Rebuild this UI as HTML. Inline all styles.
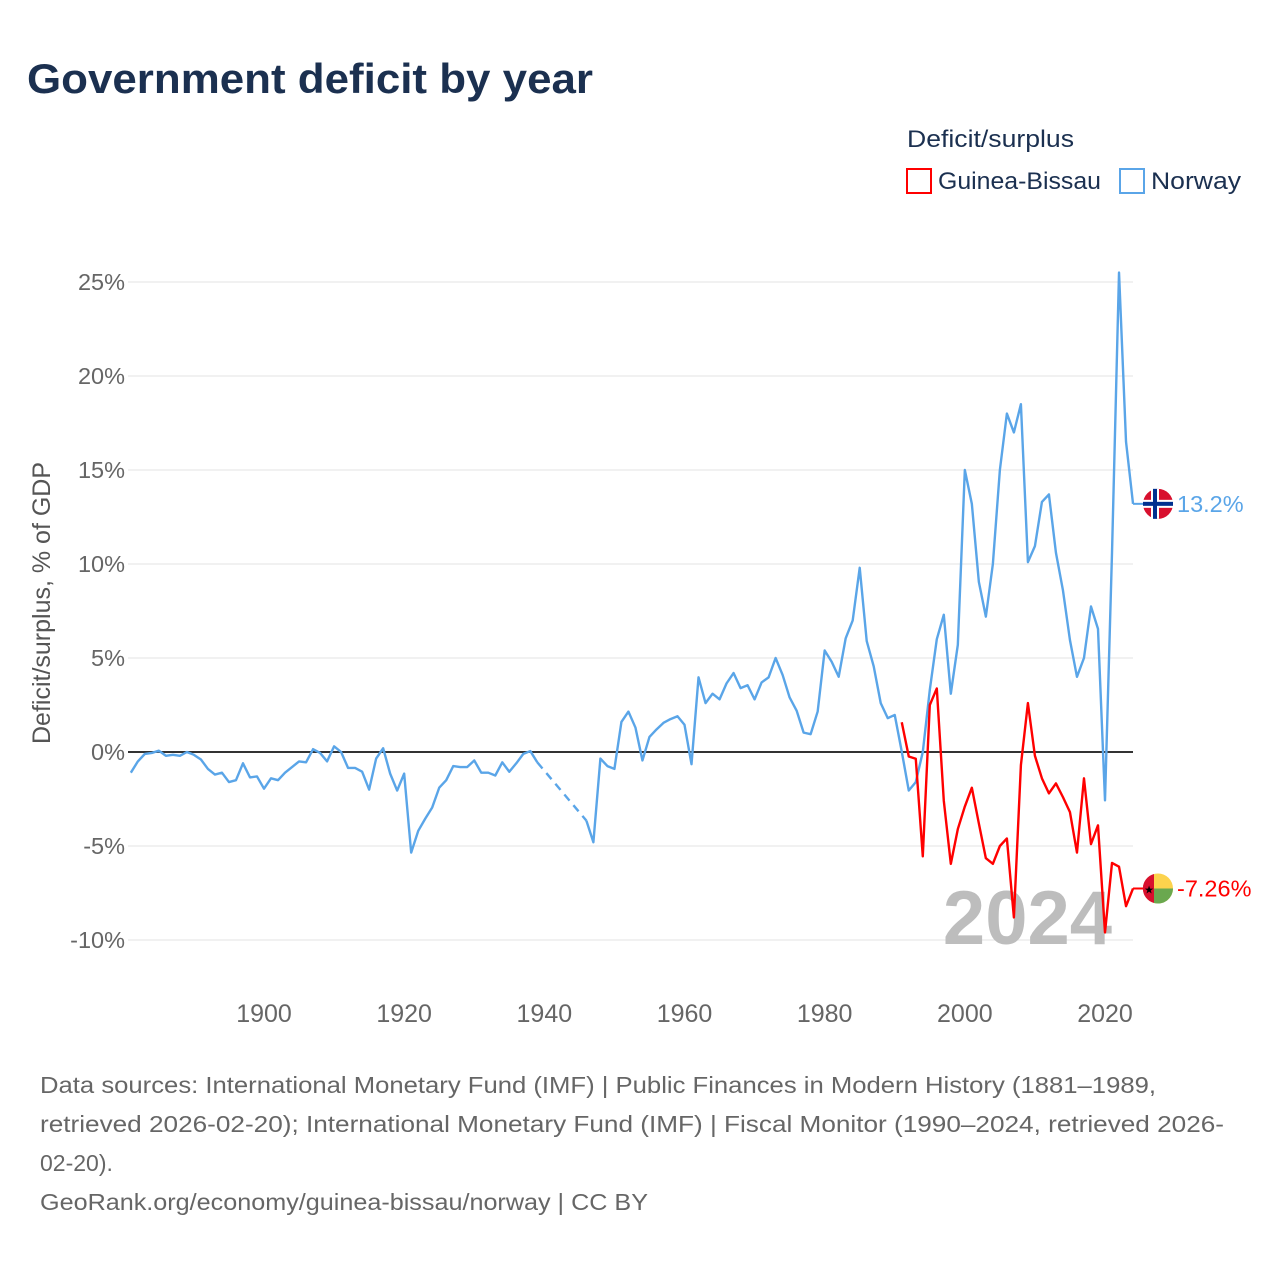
<!DOCTYPE html>
<html><head><meta charset="utf-8"><style>
html,body{margin:0;padding:0;background:#fff;}
svg text{font-family:"Liberation Sans",sans-serif;}
</style></head><body>
<svg id="chart" width="1280" height="1280" xmlns="http://www.w3.org/2000/svg">
<text x="27" y="93" font-size="42" font-weight="bold" fill="#1b3050" textLength="566" lengthAdjust="spacingAndGlyphs">Government deficit by year</text>
<text x="907" y="147" font-size="24" fill="#1b3050" textLength="167" lengthAdjust="spacingAndGlyphs">Deficit/surplus</text>
<g>
<rect x="907" y="169" width="24" height="24" fill="none" stroke="#ff0000" stroke-width="2"/>
<text x="938" y="189" font-size="24" fill="#1b3050" textLength="163" lengthAdjust="spacingAndGlyphs">Guinea-Bissau</text></g>
<g>
<rect x="1120" y="169" width="24" height="24" fill="none" stroke="#5aa5e8" stroke-width="2"/>
<text x="1151" y="189" font-size="24" fill="#1b3050" textLength="90" lengthAdjust="spacingAndGlyphs">Norway</text></g>
<g id="grid"></g>
<text x="1112" y="944" font-size="76" font-weight="bold" fill="#bdbdbd" text-anchor="end">2024</text>
<g id="series"></g>
<text transform="translate(50,603) rotate(-90)" font-size="25" fill="#555" text-anchor="middle">Deficit/surplus, % of GDP</text>
<g font-size="23" fill="#666">
<text x="40" y="1093" textLength="1116" lengthAdjust="spacingAndGlyphs">Data sources: International Monetary Fund (IMF) | Public Finances in Modern History (1881–1989,</text>
<text x="40" y="1132" textLength="1184" lengthAdjust="spacingAndGlyphs">retrieved 2026-02-20); International Monetary Fund (IMF) | Fiscal Monitor (1990–2024, retrieved 2026-</text>
<text x="40" y="1171">02-20).</text>
<text x="40" y="1210" textLength="608" lengthAdjust="spacingAndGlyphs">GeoRank.org/economy/guinea-bissau/norway | CC BY</text>
</g>
</svg>
<script>
const yTicks=[25,20,15,10,5,0,-5,-10];
const yTickLabels=["25%","20%","15%","10%","5%","0%","-5%","-10%"];
const xTicks=[1900,1920,1940,1960,1980,2000,2020];
const norwayStart=1881;
const norwayValues=[-1.1,-0.5,-0.1,-0.05,0.07,-0.2,-0.15,-0.2,0,-0.15,-0.4,-0.9,-1.2,-1.1,-1.6,-1.5,-0.6,-1.35,-1.3,-1.95,
-1.4,-1.5,-1.1,-0.8,-0.5,-0.55,0.15,-0.05,-0.5,0.3,0,-0.85,-0.85,-1.05,-2.0,-0.35,0.2,-1.15,-2.05,-1.15,
-5.35,-4.2,-3.55,-2.95,-1.9,-1.5,-0.75,-0.8,-0.8,-0.45,-1.1,-1.1,-1.25,-0.55,-1.05,-0.6,-0.1,0.05,-0.55,
null,null,null,null,null,null,-3.65,-4.8,-0.35,-0.75,-0.9,1.6,2.15,1.3,-0.45,0.8,1.2,1.55,1.75,1.9,1.45,
-0.65,3.97,2.6,3.1,2.8,3.65,4.2,3.4,3.55,2.8,3.7,3.97,5.0,4.1,2.9,2.2,1.03,0.95,2.15,5.4,4.8,4.0,6.05,7.0,9.8,
5.9,4.55,2.6,1.8,1.97,0.02,-2.05,-1.6,0,3.3,6.0,7.3,3.1,5.7,15.0,13.2,9.05,7.2,10.0,15.0,18.0,17.0,18.5,10.1,
10.95,13.3,13.7,10.6,8.6,5.95,4.0,5.0,7.74,6.55,-2.57,10.6,25.5,16.5,13.2];
const gbStart=1991;
const gbValues=[1.58,-0.24,-0.36,-5.55,2.5,3.38,-2.6,-5.95,-4.1,-2.9,-1.9,-3.8,-5.65,-5.95,-5.0,-4.6,-8.8,-0.7,2.6,-0.2,
-1.4,-2.2,-1.67,-2.4,-3.2,-5.35,-1.4,-4.9,-3.9,-9.6,-5.9,-6.1,-8.2,-7.26];
const NS="http://www.w3.org/2000/svg";
function X(yr){return 264+(yr-1900)*841/120;}
function Y(v){return 752-v*18.8;}
function mk(t,a,p){const e=document.createElementNS(NS,t);for(const k in a)e.setAttribute(k,a[k]);p.appendChild(e);return e;}
const grid=document.getElementById('grid'),ser=document.getElementById('series');
yTicks.forEach((v,i)=>{
 if(v!==0){const l=mk('line',{x1:128,x2:1133,y1:Y(v),y2:Y(v),stroke:'#e3e3e3','stroke-width':1},grid);
 
 }
 const t=mk('text',{x:125,y:Y(v)+8,'font-size':23.5,fill:'#666','text-anchor':'end'},grid);t.textContent=yTickLabels[i];
 
 
});
xTicks.forEach(yr=>{const t=mk('text',{x:X(yr),y:1022,'font-size':25,fill:'#666','text-anchor':'middle'},grid);t.textContent=yr;
 
 });
const zl=mk('line',{x1:128,x2:1133,y1:Y(0),y2:Y(0),stroke:'#333','stroke-width':2},grid);


function drawSeries(start,vals,color,name){
 const g=mk('g',{},ser);
 
 
 let seg=[],prev=null;
 const flush=()=>{if(seg.length>1)mk('polyline',{points:seg.join(' '),fill:'none',stroke:color,'stroke-width':2.4,'stroke-linejoin':'round'},g);seg=[];};
 vals.forEach((v,i)=>{const yr=start+i;
  if(v===null){if(seg.length){flush();}return;}
  if(prev&&prev.i<i-1){mk('line',{x1:X(start+prev.i),y1:Y(prev.v),x2:X(yr),y2:Y(v),stroke:color,'stroke-width':2.4,'stroke-dasharray':'8 6'},g);}
  seg.push(X(yr)+','+Y(v));prev={i,v};});
 flush();
 return prev;
}
const nl=drawSeries(norwayStart,norwayValues,'#5aa5e8','norway-line');
const gl=drawSeries(gbStart,gbValues,'#ff0000','guinea-bissau-line');
function endLabel(last,start,color,name,flag){
 const x=X(start+last.i),y=Y(last.v);
 const g=mk('g',{},ser);
 
 
 mk('line',{x1:x,x2:1146,y1:y,y2:y,stroke:color,'stroke-width':2},g);
 flag(g,1158,y);
 const t=mk('text',{x:1177,y:y+8,'font-size':23.5,fill:color},g);t.textContent=last.v+'%';
}
endLabel(nl,norwayStart,'#5aa5e8','norway-end-label',(g,cx,cy)=>{
 mk('circle',{cx,cy,r:15,fill:'#d8102e'},g);
 mk('rect',{x:cx-15,y:cy-4,width:30,height:8,fill:'#fff'},g);
 mk('rect',{x:cx-7,y:cy-15,width:8,height:30,fill:'#fff'},g);
 mk('rect',{x:cx-15,y:cy-2,width:30,height:4,fill:'#00308f'},g);
 mk('rect',{x:cx-5,y:cy-15,width:4,height:30,fill:'#00308f'},g);
});
endLabel(gl,gbStart,'#ff0000','guinea-bissau-end-label',(g,cx,cy)=>{
 mk('circle',{cx,cy,r:15,fill:'#fcd34d'},g);
 mk('path',{d:`M${cx-4},${cy} H${cx+15} A15,15 0 0 1 ${cx-4},${cy+14.5} Z`,fill:'#6aa84f'},g);
 mk('path',{d:`M${cx-4},${cy-14.5} A15,15 0 0 0 ${cx-4},${cy+14.5} Z`,fill:'#d8102e'},g);
 mk('text',{x:cx-9,y:cy+5,'font-size':11,fill:'#000','text-anchor':'middle'},g).textContent='★';
});
</script>
</body></html>
